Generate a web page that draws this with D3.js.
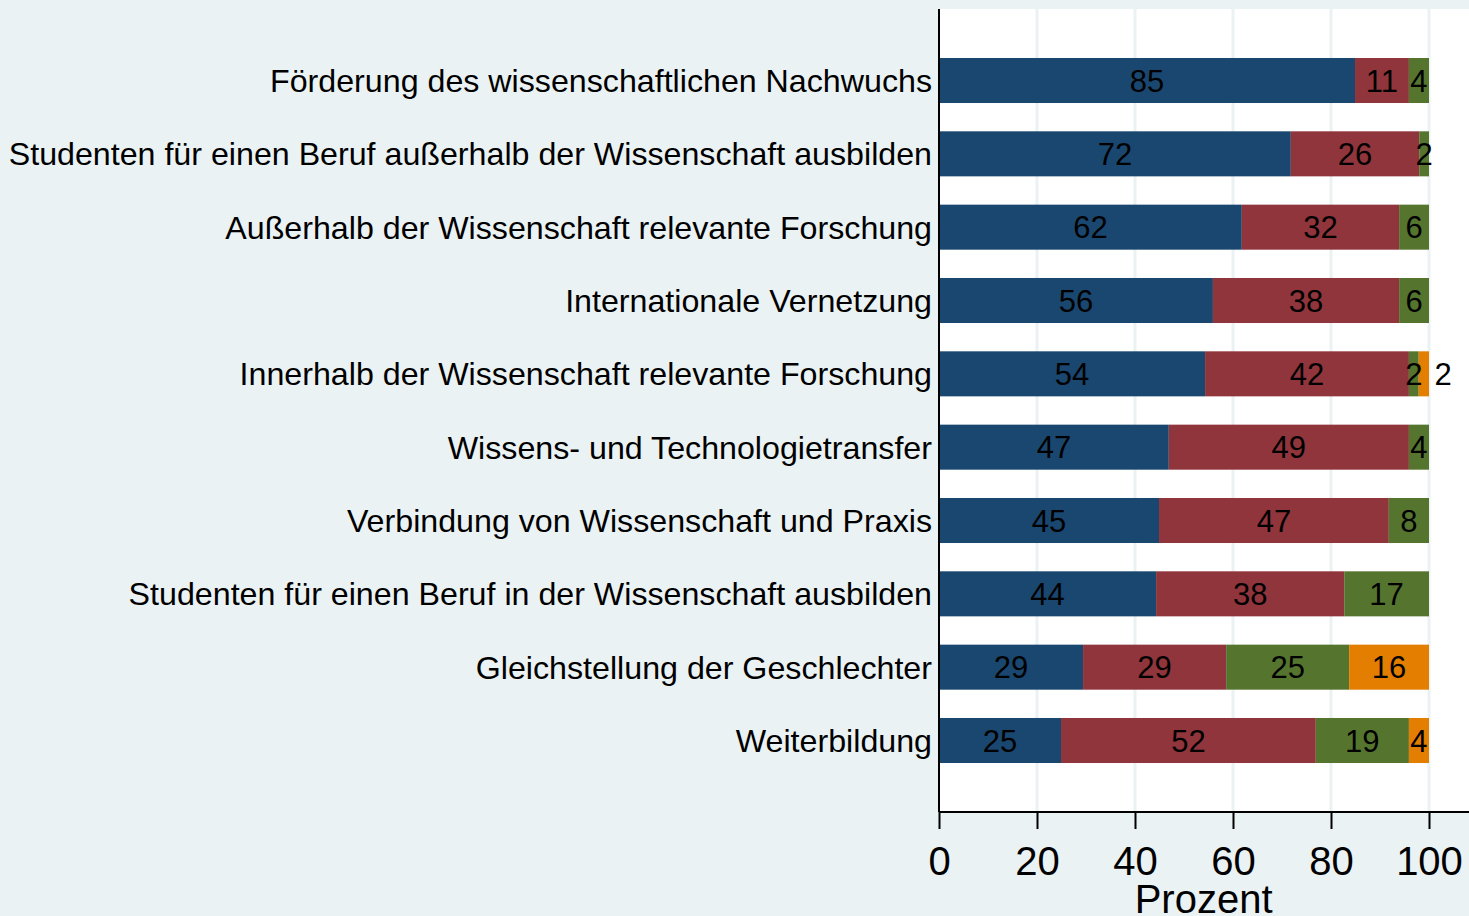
<!DOCTYPE html>
<html>
<head>
<meta charset="utf-8">
<script src="https://cdn.jsdelivr.net/npm/d3@7"></script>
<style>
  body { margin: 0; background: #EAF2F3; }
  text { font-family: "Liberation Sans", Arial, sans-serif; fill: #000; }
</style>
</head>
<body>
<div id="chart"></div>
<script>
// categories, top to bottom
const categories = [
    "Förderung des wissenschaftlichen Nachwuchs",
    "Studenten für einen Beruf außerhalb der Wissenschaft ausbilden",
    "Außerhalb der Wissenschaft relevante Forschung",
    "Internationale Vernetzung",
    "Innerhalb der Wissenschaft relevante Forschung",
    "Wissens- und Technologietransfer",
    "Verbindung von Wissenschaft und Praxis",
    "Studenten für einen Beruf in der Wissenschaft ausbilden",
    "Gleichstellung der Geschlechter",
    "Weiterbildung"
];

// stacked series (percent)
const seriesBlue   = [84.9, 71.8, 61.8, 55.9, 54.3, 46.9, 44.9, 44.3, 29.4, 24.9];
const seriesRed    = [11.0, 26.2, 32.1, 38.0, 41.6, 49.0, 46.9, 38.4, 29.2, 52.0];
const seriesGreen  = [4.1, 2.0, 6.1, 6.1, 2.0, 4.1, 8.2, 17.3, 25.1, 19.0];
const seriesOrange = [0, 0, 0, 0, 2.1, 0, 0, 0, 16.3, 4.1];

const xTicks = [0, 20, 40, 60, 80, 100];
const xTitle = "Prozent";

const colors = ["#1A476F", "#90353B", "#55752F", "#E37E00"];

const W = 1469, H = 916;
const plot = {left: 939, right: 1469, top: 9, bottom: 812};

const svg = d3.select("#chart").append("svg")
    .attr("width", W)
    .attr("height", H);

svg.append("rect")
    .attr("width", W).attr("height", H)
    .attr("fill", "#EAF2F3");

// plot region
svg.append("rect")
    .attr("x", plot.left).attr("y", plot.top)
    .attr("width", plot.right - plot.left)
    .attr("height", plot.bottom - plot.top)
    .attr("fill", "#fff");

let x = d3.scaleLinear()
    .domain([0, 100])
    .range([plot.left, 1429]);

let y = d3.scaleBand()
    .domain(categories)
    .range([plot.top, plot.bottom])
    .paddingInner(0.386)
    .paddingOuter(0.668);

// gridlines
svg.append("g").selectAll("line")
    .data(xTicks.slice(1))
    .join("line")
    .attr("x1", d => x(d)).attr("x2", d => x(d))
    .attr("y1", plot.top).attr("y2", plot.bottom)
    .attr("stroke", "#EAF2F3")
    .attr("stroke-width", 3);

// stack the data
let rows = categories.map((c, i) => ({
    cat: c, s0: seriesBlue[i], s1: seriesRed[i], s2: seriesGreen[i], s3: seriesOrange[i]
}));
let stack = d3.stack().keys(["s0", "s1", "s2", "s3"])(rows);

let fmt = d3.format(".0f");

stack.forEach((layer, k) => {
    svg.append("g").selectAll("rect")
        .data(layer.filter(d => d[1] - d[0] > 0))
        .join("rect")
        .attr("x", d => x(d[0]))
        .attr("y", d => y(d.data.cat))
        .attr("width", d => x(d[1]) - x(d[0]))
        .attr("height", y.bandwidth())
        .attr("fill", colors[k]);
});

// value labels, pushed right when they would collide
const labelG = svg.append("g");
rows.forEach((r, i) => {
    let prevRight = -Infinity;
    stack.forEach(layer => {
        let d = layer[i];
        let v = d[1] - d[0];
        if (v <= 0) return;
        let t = labelG.append("text")
            .attr("y", y(r.cat) + y.bandwidth() / 2)
            .attr("dy", "0.36em")
            .attr("text-anchor", "middle")
            .style("font-size", "31px")
            .text(fmt(v));
        let w = t.node().getComputedTextLength();
        let cx = x((d[0] + d[1]) / 2);
        if (cx - w / 2 < prevRight + 4) cx = prevRight + 12 + w / 2;
        t.attr("x", cx);
        prevRight = cx + w / 2;
    });
});

// category labels
svg.append("g").selectAll("text")
    .data(categories)
    .join("text")
    .attr("x", 932)
    .attr("y", d => y(d) + y.bandwidth() / 2)
    .attr("dy", "0.36em")
    .attr("text-anchor", "end")
    .style("font-size", "32.2px")
    .text(d => d);

// axes
svg.append("line")
    .attr("x1", plot.left).attr("x2", plot.left)
    .attr("y1", plot.top).attr("y2", plot.bottom)
    .attr("stroke", "#000").attr("stroke-width", 2);

let xAxis = d3.axisBottom(x)
    .tickValues(xTicks)
    .tickSize(17)
    .tickPadding(18)
    .tickSizeOuter(0);

let gx = svg.append("g")
    .attr("transform", `translate(0,${plot.bottom})`)
    .call(xAxis);
gx.select(".domain").remove();
gx.append("line")
    .attr("x1", plot.left).attr("x2", plot.right)
    .attr("stroke", "#000").attr("stroke-width", 2);
gx.selectAll(".tick line").attr("stroke", "#000").attr("stroke-width", 2);
gx.selectAll(".tick text")
    .attr("fill", "#000")
    .style("font-family", "'Liberation Sans', Arial, sans-serif")
    .style("font-size", "40px");

svg.append("text")
    .attr("x", x(54))
    .attr("y", 913)
    .attr("text-anchor", "middle")
    .style("font-size", "40px")
    .text(xTitle);
</script>
</body>
</html>
